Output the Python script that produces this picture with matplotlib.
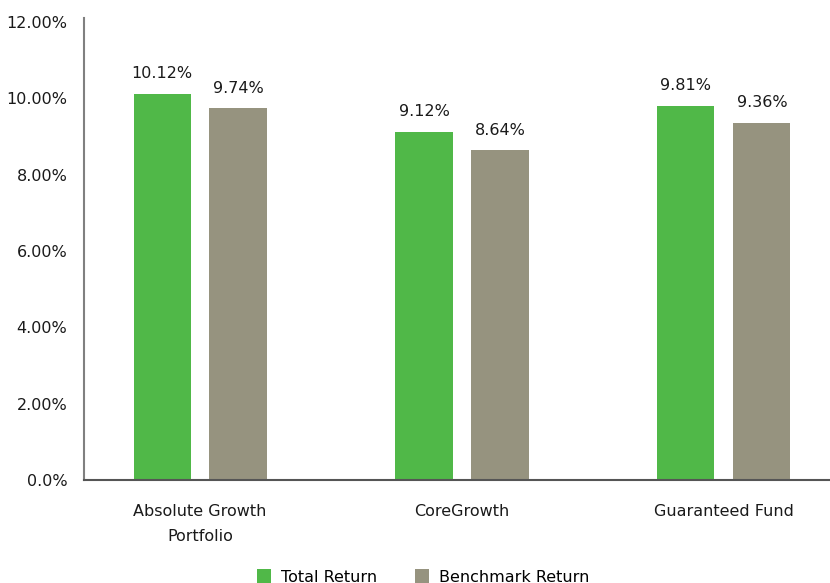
import numpy as np
import matplotlib
import matplotlib.pyplot as plt

matplotlib.use('Agg')

# data
categories = ['Absolute Growth\nPortfolio', 'CoreGrowth', 'Guaranteed Fund']
total_return = [10.12, 9.12, 9.81]
benchmark_return = [9.74, 8.64, 9.36]
y_ticks = [0, 2, 4, 6, 8, 10, 12]
y_tick_labels = ['0.0%', '2.00%', '4.00%', '6.00%', '8.00%', '10.00%', '12.00%']

green = '#50b848'
grey = '#96937f'

plt.rcParams['font.family'] = ['DejaVu Sans']
fs = 11.5

fig = plt.figure(figsize=(8.3, 5.83), dpi=100)
ax = fig.add_axes([84 / 830, 1 - 480 / 583, 746 / 830, 458 / 583])

x = np.arange(len(categories))
w = 0.218
off = 0.145
b1 = ax.bar(x - off, total_return, w, color=green, label='Total Return', zorder=2)
b2 = ax.bar(x + off, benchmark_return, w, color=grey, label='Benchmark Return', zorder=2)

for bars, vals in ((b1, total_return), (b2, benchmark_return)):
    for rect, v in zip(bars, vals):
        ax.annotate(f'{v:.2f}%', (rect.get_x() + rect.get_width() / 2, v),
                    xytext=(0, 9), textcoords='offset points',
                    ha='center', va='bottom', fontsize=fs, color='#1a1a1a')

ax.set_xlim(-0.443, 2.405)
ax.set_ylim(0, 12)
ax.set_yticks(y_ticks)
ax.set_yticklabels(y_tick_labels)
ax.set_xticks(x)
ax.set_xticklabels(categories, linespacing=1.9)
ax.tick_params(axis='both', length=0, labelsize=fs, colors='#1a1a1a')
ax.tick_params(axis='y', pad=12)
ax.tick_params(axis='x', pad=17)

for s in ('top', 'right'):
    ax.spines[s].set_visible(False)
ax.spines['left'].set_color('#808080')
ax.spines['left'].set_linewidth(1.5)
ax.spines['left'].set_bounds(0, 12.1)
ax.spines['bottom'].set_color('#555555')
ax.spines['bottom'].set_linewidth(1.5)
ax.spines['bottom'].set_zorder(3)

fig.legend(loc='center', bbox_to_anchor=(423 / 830, 1 - 577 / 583), ncol=2,
           frameon=False, fontsize=fs, handlelength=0.9, handleheight=0.9,
           columnspacing=2.4, handletextpad=0.6)

fig.savefig('out.png', dpi=100)
